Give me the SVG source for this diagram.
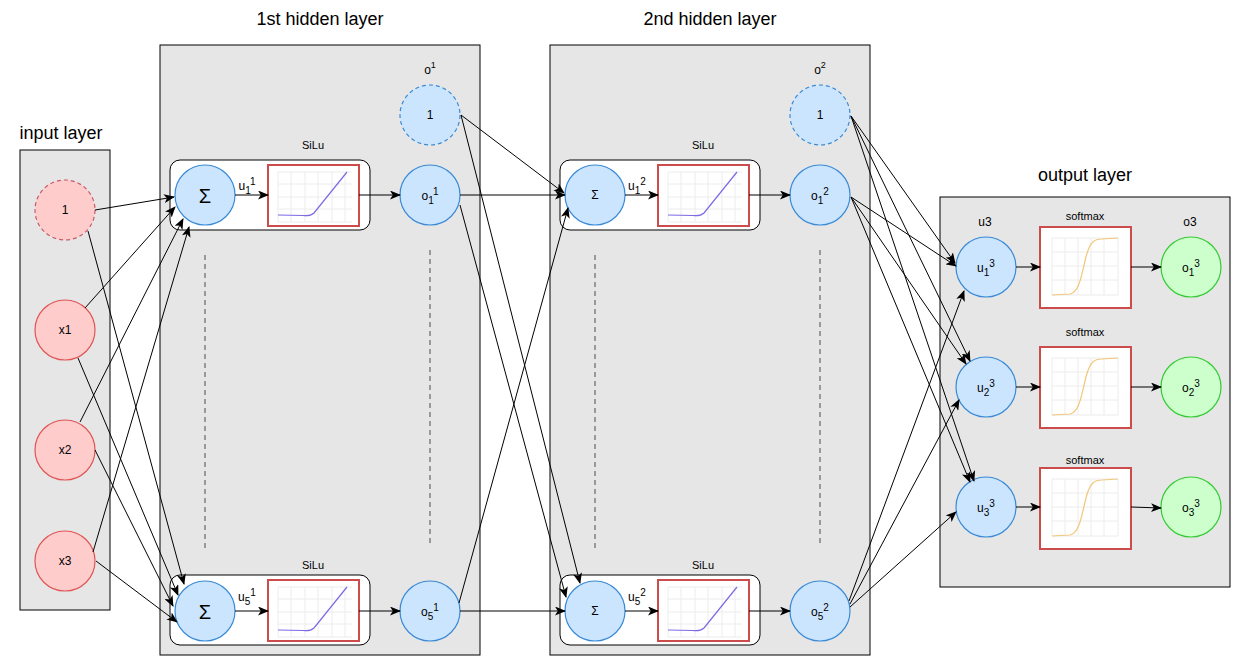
<svg xmlns="http://www.w3.org/2000/svg" width="1236" height="661" viewBox="0 0 1236 661">
<style>
text{font-family:"Liberation Sans",Arial,sans-serif;fill:#000;text-anchor:middle;dominant-baseline:central}
.layer{fill:#e6e6e6;stroke:#000;stroke-width:1}
.title{font-size:18px}
.small{font-size:11px}
.lbl{font-size:12px}
.inner{fill:#fff;stroke:#000;stroke-width:1}
.blue{fill:#cce5ff;stroke:#3a8ad6;stroke-width:1.2}
.bluedash{fill:#cce5ff;stroke:#3a8ad6;stroke-width:1.2;stroke-dasharray:4 3}
.red{fill:#ffcccc;stroke:#e05555;stroke-width:1.2}
.reddash{fill:#ffcccc;stroke:#c85a66;stroke-width:1.2;stroke-dasharray:4 3}
.green{fill:#ccffcc;stroke:#33cc33;stroke-width:1.2}
.plot{fill:#fff;stroke:#cc4b4b;stroke-width:2}
.grid{stroke:#ececec;stroke-width:1;fill:none}
.vdash{stroke:#808080;stroke-width:1.5;stroke-dasharray:5 4;fill:none}
.edge{stroke:#000;stroke-width:1;fill:none;marker-end:url(#arr)}
</style>
<defs>
<marker id="arr" markerWidth="11" markerHeight="9" refX="10" refY="4.5" orient="auto" markerUnits="userSpaceOnUse">
<path d="M0,0 L11,4.5 L0,9 L2.8,4.5 Z" fill="#000"/>
</marker>
<symbol id="silu" viewBox="0 0 91 61" width="91" height="61" overflow="visible">
<rect class="plot" x="0" y="0" width="91" height="61"/>
<path class="grid" d="M10,7V57M23,7V57M37,7V57M50,7V57M64,7V57M77,7V57M10,7H84M10,19H84M10,32H84M10,44H84M10,57H84"/>
<path d="M10,50 L35,50.5 Q42,51.5 46,48 L79,7" fill="none" stroke="#7b6be6" stroke-width="1.2"/>
</symbol>
<symbol id="soft" viewBox="0 0 91 81" width="91" height="81" overflow="visible">
<rect class="plot" x="0" y="0" width="91" height="81"/>
<path class="grid" d="M12,11V68M25,11V68M38,11V68M51,11V68M64,11V68M78,11V68M12,11H78M12,25H78M12,39H78M12,53H78M12,68H78"/>
<path d="M12,68 L30,67 C40,65 42,45 46,30 C50,14 55,12 62,12 L78,11" fill="none" stroke="#f2c77a" stroke-width="1.2"/>
</symbol>
</defs>

<g id="input-layer">
<rect class="layer" x="20" y="150" width="90" height="460"/>
<text class="title" x="61" y="133">input layer</text>
</g>
<g id="hidden1-layer">
<rect class="layer" x="160" y="45" width="320" height="610"/>
<text class="title" x="320" y="19">1st hidden layer</text>
</g>
<g id="hidden2-layer">
<rect class="layer" x="550" y="45" width="320" height="610"/>
<text class="title" x="710" y="19">2nd hidden layer</text>
</g>
<g id="output-layer">
<rect class="layer" x="940" y="197" width="290" height="390"/>
<text class="title" x="1085" y="175">output layer</text>
</g>

<g id="in-bias"><circle class="reddash" cx="65" cy="210" r="30"/><text class="lbl" x="65" y="210">1</text></g>
<g id="in-x1"><circle class="red" cx="65" cy="330" r="30"/><text class="lbl" x="65" y="330">x1</text></g>
<g id="in-x2"><circle class="red" cx="65" cy="450" r="30"/><text class="lbl" x="65" y="450">x2</text></g>
<g id="in-x3"><circle class="red" cx="65" cy="561" r="30"/><text class="lbl" x="65" y="561">x3</text></g>

<g id="h1-unit1">
<text class="small" x="313" y="145">SiLu</text>
<rect class="inner" x="170" y="160" width="200" height="70" rx="10"/>
<circle class="blue" cx="205" cy="195" r="30"/>
<text x="205" y="196" style="font-size:20px">Σ</text>
<use href="#silu" x="268" y="165"/>
<text class="lbl" x="247" y="186">u<tspan dy="4" font-size="10px">1</tspan><tspan dy="-9" font-size="10px">1</tspan></text>
</g>
<g id="h1-unit5">
<text class="small" x="313" y="565">SiLu</text>
<rect class="inner" x="170" y="575" width="200" height="70" rx="10"/>
<circle class="blue" cx="205" cy="611" r="30"/>
<text x="205" y="612" style="font-size:20px">Σ</text>
<use href="#silu" x="268" y="580"/>
<text class="lbl" x="247" y="597">u<tspan dy="4" font-size="10px">5</tspan><tspan dy="-9" font-size="10px">1</tspan></text>
</g>
<g id="h1-bias">
<text class="lbl" x="430" y="70">o<tspan dy="-5" font-size="9px">1</tspan></text>
<circle class="bluedash" cx="430" cy="115" r="30"/><text class="lbl" x="430" y="115">1</text>
</g>
<g id="h1-o1"><circle class="blue" cx="430" cy="195" r="30"/><text class="lbl" x="430" y="196">o<tspan dy="4" font-size="10px">1</tspan><tspan dy="-9" font-size="10px">1</tspan></text></g>
<g id="h1-o5"><circle class="blue" cx="430" cy="611" r="30"/><text class="lbl" x="430" y="612">o<tspan dy="4" font-size="10px">5</tspan><tspan dy="-9" font-size="10px">1</tspan></text></g>
<g id="h1-dots">
<path class="vdash" d="M205,255V550M430,250V546"/>
</g>

<g id="h2-unit1">
<text class="small" x="703" y="145">SiLu</text>
<rect class="inner" x="560" y="160" width="200" height="70" rx="10"/>
<circle class="blue" cx="595" cy="195" r="30"/>
<text x="595" y="195" style="font-size:12px">Σ</text>
<use href="#silu" x="658" y="165"/>
<text class="lbl" x="637" y="186">u<tspan dy="4" font-size="10px">1</tspan><tspan dy="-9" font-size="10px">2</tspan></text>
</g>
<g id="h2-unit5">
<text class="small" x="703" y="565">SiLu</text>
<rect class="inner" x="560" y="575" width="200" height="70" rx="10"/>
<circle class="blue" cx="595" cy="611" r="30"/>
<text x="595" y="611" style="font-size:12px">Σ</text>
<use href="#silu" x="658" y="580"/>
<text class="lbl" x="637" y="597">u<tspan dy="4" font-size="10px">5</tspan><tspan dy="-9" font-size="10px">2</tspan></text>
</g>
<g id="h2-bias">
<text class="lbl" x="820" y="70">o<tspan dy="-5" font-size="9px">2</tspan></text>
<circle class="bluedash" cx="820" cy="115" r="30"/><text class="lbl" x="820" y="115">1</text>
</g>
<g id="h2-o1"><circle class="blue" cx="820" cy="195" r="30"/><text class="lbl" x="820" y="196">o<tspan dy="4" font-size="10px">1</tspan><tspan dy="-9" font-size="10px">2</tspan></text></g>
<g id="h2-o5"><circle class="blue" cx="820" cy="611" r="30"/><text class="lbl" x="820" y="612">o<tspan dy="4" font-size="10px">5</tspan><tspan dy="-9" font-size="10px">2</tspan></text></g>
<g id="h2-dots">
<path class="vdash" d="M595,255V550M820,250V546"/>
</g>

<g id="out-headers">
<text class="lbl" x="985" y="222">u3</text>
<text class="lbl" x="1190" y="222">o3</text>
</g>
<g id="out-u1"><circle class="blue" cx="986" cy="267" r="30"/><text class="lbl" x="986" y="268">u<tspan dy="4" font-size="10px">1</tspan><tspan dy="-9" font-size="10px">3</tspan></text></g>
<g id="out-soft1"><text class="small" x="1085" y="216">softmax</text><use href="#soft" x="1040" y="227"/></g>
<g id="out-o1"><circle class="green" cx="1191" cy="267" r="30"/><text class="lbl" x="1191" y="268">o<tspan dy="4" font-size="10px">1</tspan><tspan dy="-9" font-size="10px">3</tspan></text></g>

<g id="out-u2"><circle class="blue" cx="986" cy="387" r="30"/><text class="lbl" x="986" y="388">u<tspan dy="4" font-size="10px">2</tspan><tspan dy="-9" font-size="10px">3</tspan></text></g>
<g id="out-soft2"><text class="small" x="1085" y="332">softmax</text><use href="#soft" x="1040" y="347"/></g>
<g id="out-o2"><circle class="green" cx="1191" cy="387" r="30"/><text class="lbl" x="1191" y="388">o<tspan dy="4" font-size="10px">2</tspan><tspan dy="-9" font-size="10px">3</tspan></text></g>

<g id="out-u3"><circle class="blue" cx="986" cy="507" r="30"/><text class="lbl" x="986" y="508">u<tspan dy="4" font-size="10px">3</tspan><tspan dy="-9" font-size="10px">3</tspan></text></g>
<g id="out-soft3"><text class="small" x="1085" y="460">softmax</text><use href="#soft" x="1040" y="468"/></g>
<g id="out-o3"><circle class="green" cx="1191" cy="507" r="30"/><text class="lbl" x="1191" y="508">o<tspan dy="4" font-size="10px">3</tspan><tspan dy="-9" font-size="10px">3</tspan></text></g>

<g id="connectors">
<path class="edge" d="M95,210L174,197"/>
<path class="edge" d="M88,231L184,584"/>
<path class="edge" d="M85,308L175,207"/>
<path class="edge" d="M78,358L178,595"/>
<path class="edge" d="M80,422L183,219"/>
<path class="edge" d="M95,450L173,606"/>
<path class="edge" d="M93,552L189,227"/>
<path class="edge" d="M96,561L177,622"/>
<path class="edge" d="M235,195L268,195"/>
<path class="edge" d="M359,195L400,195"/>
<path class="edge" d="M235,611L268,611"/>
<path class="edge" d="M359,611L400,611"/>
<path class="edge" d="M460,195L565,195"/>
<path class="edge" d="M461,115L564,193"/>
<path class="edge" d="M461,115L580,583"/>
<path class="edge" d="M460,205L566,597"/>
<path class="edge" d="M459,603L568,208"/>
<path class="edge" d="M460,611L565,611"/>
<path class="edge" d="M625,195L658,195"/>
<path class="edge" d="M749,195L790,195"/>
<path class="edge" d="M625,611L658,611"/>
<path class="edge" d="M749,611L790,611"/>
<path class="edge" d="M851,116L955,263"/>
<path class="edge" d="M851,116L970,361"/>
<path class="edge" d="M851,116L974,481"/>
<path class="edge" d="M851,197L956,266"/>
<path class="edge" d="M851,197L966,364"/>
<path class="edge" d="M851,197L970,482"/>
<path class="edge" d="M849,601L964,291"/>
<path class="edge" d="M850,604L959,400"/>
<path class="edge" d="M850,607L956,512"/>
<path class="edge" d="M1016,267L1040,267"/>
<path class="edge" d="M1131,267L1161,267"/>
<path class="edge" d="M1016,387L1040,387"/>
<path class="edge" d="M1131,387L1161,387"/>
<path class="edge" d="M1016,507L1040,507"/>
<path class="edge" d="M1131,507L1161,508"/>
</g>
</svg>
